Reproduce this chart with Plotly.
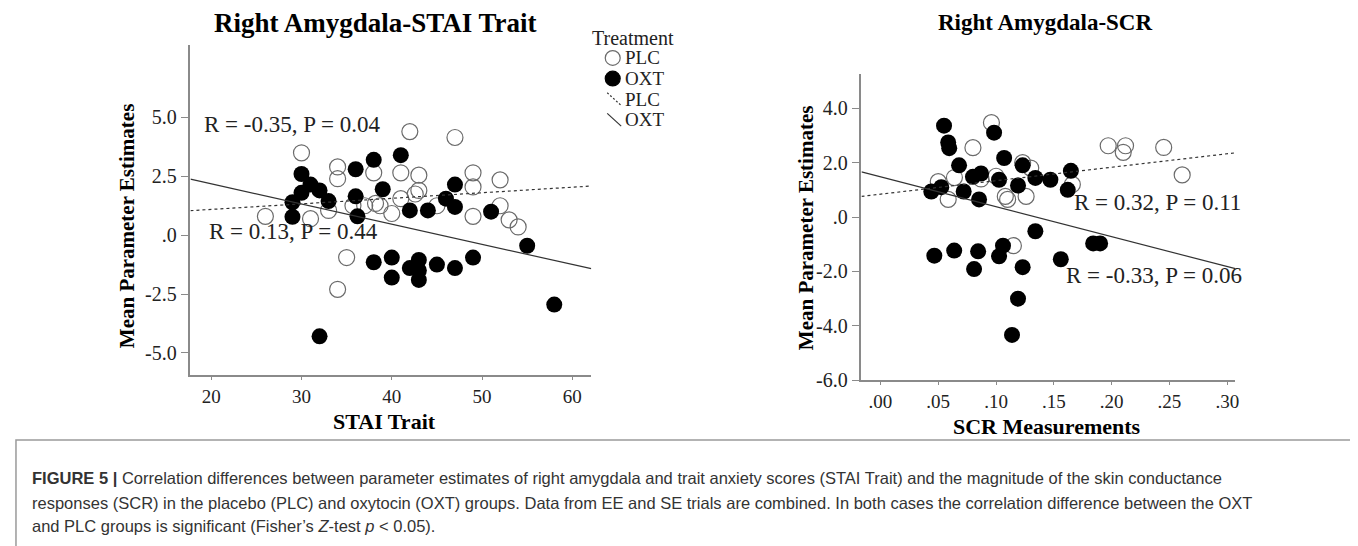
import plotly.graph_objects as go

# ---------------- data ----------------
stai_plc_x = [26, 30, 31, 34, 34, 33, 35, 34, 35.7, 37, 38, 38.2, 38.7, 40, 41, 41, 42, 42.6, 43, 43, 45, 47, 49, 49, 49, 52, 52, 53, 54]
stai_plc_y = [0.8, 3.5, 0.7, 2.9, 2.4, 1.05, -0.95, -2.3, 1.25, 1.25, 2.65, 1.35, 1.25, 0.92, 1.55, 2.65, 4.4, 1.75, 2.55, 1.9, 1.25, 4.15, 2.65, 2.05, 0.8, 2.35, 1.25, 0.65, 0.35]

stai_oxt_x = [29, 29, 30, 30, 31, 32, 33, 36, 36, 36.2, 38, 39, 41, 42, 44, 46, 47, 47, 51, 55, 32, 38, 40, 40, 42, 43, 43, 43, 45, 47, 49, 58]
stai_oxt_y = [1.4, 0.78, 2.6, 1.8, 2.15, 1.9, 1.45, 2.8, 1.65, 0.8, 3.2, 1.95, 3.4, 1.05, 1.05, 1.55, 2.15, 1.2, 1.0, -0.45, -4.3, -1.15, -0.95, -1.8, -1.4, -1.05, -1.5, -1.9, -1.25, -1.4, -0.95, -2.95]

scr_plc_x = [0.050, 0.064, 0.0586, 0.080, 0.096, 0.087, 0.100, 0.108, 0.110, 0.126, 0.123, 0.130, 0.115, 0.166, 0.197, 0.212, 0.210, 0.245, 0.261]
scr_plc_y = [1.3, 1.45, 0.65, 2.55, 3.47, 1.4, 1.5, 0.76, 0.65, 0.76, 2.0, 1.8, -1.05, 1.2, 2.62, 2.62, 2.38, 2.56, 1.55]

scr_oxt_x = [0.055, 0.0586, 0.0595, 0.0983, 0.068, 0.107, 0.123, 0.134, 0.087, 0.080, 0.1026, 0.119, 0.044, 0.0526, 0.072, 0.0853, 0.147, 0.1647, 0.162,
             0.134, 0.106, 0.1026, 0.0845, 0.0638, 0.0466, 0.081, 0.123, 0.119, 0.1138, 0.156, 0.184, 0.190]
scr_oxt_y = [3.36, 2.74, 2.53, 3.1, 1.9, 2.17, 1.9, 1.44, 1.6, 1.48, 1.37, 1.16, 0.94, 1.1, 0.94, 0.65, 1.37, 1.7, 1.0,
             -0.52, -1.05, -1.44, -1.26, -1.23, -1.42, -1.91, -1.84, -3.0, -4.33, -1.55, -0.97, -0.97]

# linear fit lines (intercept, slope) and their x extent
stai_fit_plc = (0.622, 0.0236)
stai_fit_oxt = (3.897, -0.0857)
stai_fit_x = [17.7, 62.1]
scr_fit_plc = (0.841, 4.95)
scr_fit_oxt = (1.48, -11.0)
scr_fit_x = [-0.0164, 0.307]

stai_xticks = [20, 30, 40, 50, 60]
stai_yticks = [5.0, 2.5, 0.0, -2.5, -5.0]
stai_yticktext = ["5.0", "2.5", ".0", "-2.5", "-5.0"]
scr_xticks = [0.0, 0.05, 0.10, 0.15, 0.20, 0.25, 0.30]
scr_xticktext = [".00", ".05", ".10", ".15", ".20", ".25", ".30"]
scr_yticks = [4.0, 2.0, 0.0, -2.0, -4.0, -6.0]
scr_yticktext = ["4.0", "2.0", ".0", "-2.0", "-4.0", "-6.0"]

annot_stai = ["R = -0.35, P = 0.04", "R = 0.13, P = 0.44"]
annot_scr = ["R = 0.32, P = 0.11", "R = -0.33, P = 0.06"]
legend_title = "Treatment"
legend_labels = ["PLC", "OXT", "PLC", "OXT"]

caption_lines = [
    "<b>FIGURE 5 |</b> Correlation differences between parameter estimates of right amygdala and trait anxiety scores (STAI Trait) and the magnitude of the skin conductance",
    "responses (SCR) in the placebo (PLC) and oxytocin (OXT) groups. Data from EE and SE trials are combined. In both cases the correlation difference between the OXT",
    "and PLC groups is significant (Fisher’s <i>Z</i>-test <i>p</i> &lt; 0.05).",
]

# ---------------- figure ----------------
W, H = 1358, 546
SERIF = "Liberation Serif"
SANS = "Liberation Sans"


def px(x):
    return x / W


def py(y):
    return 1 - y / H


def line_y(fit, xs):
    b, m = fit
    return [b + m * x for x in xs]


OPEN_C = "#6b6b6b"
LINE_C = "#333333"
open_marker = dict(symbol="circle-open", size=16, color=OPEN_C, line=dict(width=1.2, color=OPEN_C))
fill_marker = dict(symbol="circle", size=16, color="black", line=dict(width=0))

fig = go.Figure()
# left panel
fig.add_trace(go.Scatter(x=stai_plc_x, y=stai_plc_y, mode="markers", marker=open_marker, name="PLC",
                         xaxis="x", yaxis="y"))
fig.add_trace(go.Scatter(x=stai_oxt_x, y=stai_oxt_y, mode="markers", marker=fill_marker, name="OXT",
                         xaxis="x", yaxis="y"))
fig.add_trace(go.Scatter(x=stai_fit_x, y=line_y(stai_fit_plc, stai_fit_x), mode="lines", name="PLC",
                         line=dict(color=LINE_C, width=1.2, dash="3px,3px"), xaxis="x", yaxis="y"))
fig.add_trace(go.Scatter(x=stai_fit_x, y=line_y(stai_fit_oxt, stai_fit_x), mode="lines", name="OXT",
                         line=dict(color=LINE_C, width=1.2), xaxis="x", yaxis="y"))
# right panel
fig.add_trace(go.Scatter(x=scr_plc_x, y=scr_plc_y, mode="markers", marker=open_marker, name="PLC",
                         xaxis="x2", yaxis="y2"))
fig.add_trace(go.Scatter(x=scr_oxt_x, y=scr_oxt_y, mode="markers", marker=fill_marker, name="OXT",
                         xaxis="x2", yaxis="y2"))
fig.add_trace(go.Scatter(x=scr_fit_x, y=line_y(scr_fit_plc, scr_fit_x), mode="lines", name="PLC",
                         line=dict(color=LINE_C, width=1.2, dash="3px,3px"), xaxis="x2", yaxis="y2"))
fig.add_trace(go.Scatter(x=scr_fit_x, y=line_y(scr_fit_oxt, scr_fit_x), mode="lines", name="OXT",
                         line=dict(color=LINE_C, width=1.2), xaxis="x2", yaxis="y2"))


def axis(**kw):
    d = dict(showline=True, linecolor="#8a8a8a", linewidth=1.5, ticks="outside", ticklen=5,
             tickcolor="#8a8a8a", tickwidth=1.2, showgrid=False, zeroline=False,
             tickfont=dict(family=SERIF, size=20, color="#222222"))
    d.update(kw)
    return d


XTICKFONT = dict(family=SERIF, size=19, color="#222222")

fig.update_layout(
    width=W, height=H, margin=dict(l=0, r=0, t=0, b=0),
    paper_bgcolor="white", plot_bgcolor="white", showlegend=False,
    xaxis=axis(domain=[px(183), px(585)], range=[17.7, 62.1], tickvals=stai_xticks, anchor="y", ticklen=3,
               tickfont=XTICKFONT),
    yaxis=axis(domain=[py(375), py(38)], range=[-5.96, 8.07], tickvals=stai_yticks, ticktext=stai_yticktext,
               anchor="x", ticklen=8),
    xaxis2=axis(domain=[px(856), px(1231)], range=[-0.0164, 0.307], tickvals=scr_xticks, ticktext=scr_xticktext,
                anchor="y2", ticklen=3, tickfont=XTICKFONT),
    yaxis2=axis(domain=[py(380), py(67)], range=[-6.0, 5.27], tickvals=scr_yticks, ticktext=scr_yticktext,
                anchor="x2", ticklen=8),
)

ann = []


def add_text(text, x, y, size, color="black", xanchor="center", angle=0, family=SERIF):
    ann.append(dict(text=text, x=px(x), y=py(y), xref="paper", yref="paper", xanchor=xanchor, yanchor="middle",
                    textangle=angle, showarrow=False, font=dict(family=family, size=size, color=color)))


add_text("<b>Right Amygdala-STAI Trait</b>", 369, 15, 27)
add_text("<b>Right Amygdala-SCR</b>", 1040, 15, 23)
add_text("<b>STAI Trait</b>", 378, 422, 22)
add_text("<b>SCR Measurements</b>", 1042, 427, 22)
add_text("<b>Mean Parameter Estimates</b>", 119, 222, 21, angle=-90)
add_text("<b>Mean Parameter Estimates</b>", 801, 224, 21, angle=-90)
add_text(annot_stai[0], 285, 119, 23, "#222222")
add_text(annot_stai[1], 286, 228, 23, "#222222")
add_text(annot_scr[0], 1153, 199, 23, "#222222")
add_text(annot_scr[1], 1149, 273, 23, "#222222")

# legend (manual, SPSS style)
add_text(legend_title, 584, 31, 20, "#222222", xanchor="left")
legend_rows = [51, 72, 93, 114]
for lab, yy in zip(legend_labels, legend_rows):
    add_text(lab, 617, yy, 19, "#222222", xanchor="left")

for t, yy in zip(caption_lines, [480, 505, 529]):
    add_text(t, 22, yy, 16.5, "#333333", xanchor="left", family=SANS)

fig.update_layout(annotations=ann)

shapes = []
# legend swatches
for cy, filled in [(legend_rows[0], False), (legend_rows[1], True)]:
    shapes.append(dict(type="circle", xref="paper", yref="paper", x0=px(599), x1=px(614), y0=py(cy + 7.5),
                       y1=py(cy - 7.5), line=dict(color="black" if filled else OPEN_C, width=1.2),
                       fillcolor="black" if filled else "rgba(0,0,0,0)"))
for cy, dash in [(legend_rows[2], "2px,2px"), (legend_rows[3], "solid")]:
    shapes.append(dict(type="line", xref="paper", yref="paper", x0=px(601), x1=px(615), y0=py(cy - 6.5),
                       y1=py(cy + 6.5), line=dict(color=LINE_C, width=1.2, dash=dash)))
# caption frame
shapes.append(dict(type="rect", xref="paper", yref="paper", x0=px(8), x1=px(1351), y0=py(560), y1=py(441),
                   line=dict(color="#9a9a9a", width=1.5), fillcolor="rgba(0,0,0,0)"))
fig.update_layout(shapes=shapes)

fig.write_html("out.html")
